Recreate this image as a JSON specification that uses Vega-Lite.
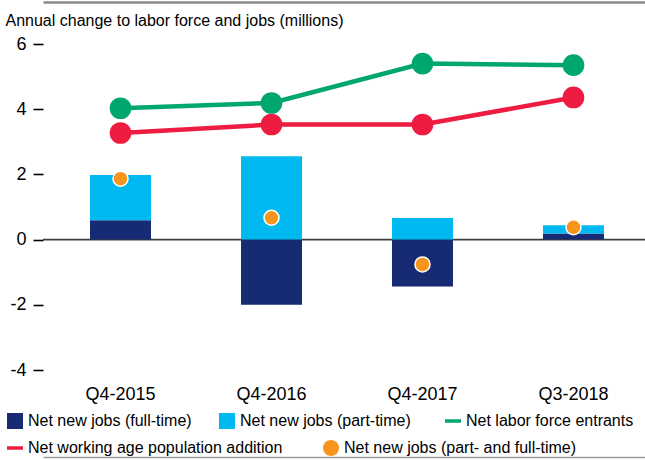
{
  "$schema": "https://vega.github.io/schema/vega-lite/v6.json",
  "width": 602,
  "height": 326,
  "autosize": {"type": "none"},
  "padding": {"left": 43, "top": 44, "right": 0, "bottom": 90},
  "background": "white",
  "config": {
    "font": "Liberation Sans, Arial, sans-serif",
    "view": {"stroke": null}
  },
  "datasets": {
    "bars": [
      {"quarter": "Q4-2015", "series": "Net new jobs (full-time)", "value": 0.59, "ord": 1},
      {"quarter": "Q4-2015", "series": "Net new jobs (part-time)", "value": 1.39, "ord": 2},
      {"quarter": "Q4-2016", "series": "Net new jobs (full-time)", "value": -2.0, "ord": 1},
      {"quarter": "Q4-2016", "series": "Net new jobs (part-time)", "value": 2.56, "ord": 2},
      {"quarter": "Q4-2017", "series": "Net new jobs (full-time)", "value": -1.44, "ord": 1},
      {"quarter": "Q4-2017", "series": "Net new jobs (part-time)", "value": 0.66, "ord": 2},
      {"quarter": "Q3-2018", "series": "Net new jobs (full-time)", "value": 0.19, "ord": 1},
      {"quarter": "Q3-2018", "series": "Net new jobs (part-time)", "value": 0.25, "ord": 2}
    ],
    "lines": [
      {"quarter": "Q4-2015", "series": "Net labor force entrants", "value": 4.03},
      {"quarter": "Q4-2016", "series": "Net labor force entrants", "value": 4.19},
      {"quarter": "Q4-2017", "series": "Net labor force entrants", "value": 5.40},
      {"quarter": "Q3-2018", "series": "Net labor force entrants", "value": 5.35},
      {"quarter": "Q4-2015", "series": "Net working age population addition", "value": 3.27},
      {"quarter": "Q4-2016", "series": "Net working age population addition", "value": 3.53},
      {"quarter": "Q4-2017", "series": "Net working age population addition", "value": 3.53},
      {"quarter": "Q3-2018", "series": "Net working age population addition", "value": 4.36}
    ],
    "dots": [
      {"quarter": "Q4-2015", "series": "Net new jobs (part- and full-time)", "value": 1.87},
      {"quarter": "Q4-2016", "series": "Net new jobs (part- and full-time)", "value": 0.67},
      {"quarter": "Q4-2017", "series": "Net new jobs (part- and full-time)", "value": -0.76},
      {"quarter": "Q3-2018", "series": "Net new jobs (part- and full-time)", "value": 0.38}
    ]
  },
  "resolve": {"axis": {"x": "independent"}},
  "encoding": {
    "y": {
      "field": "value", "type": "quantitative",
      "scale": {"domain": [-4, 6], "nice": false, "zero": false},
      "axis": {
        "orient": "left",
        "values": [-4, -2, 0, 2, 4, 6],
        "labelExpr": "datum.value < 0 ? '-' + abs(datum.value) : '' + datum.value",
        "grid": false, "domain": false, "ticks": true, "tickSize": 10, "tickWidth": 1.6, "tickColor": "#000000",
        "labelPadding": 7, "labelFontSize": 18, "labelColor": "#000000",
        "title": "Annual change to labor force and jobs (millions)",
        "titleAngle": 0, "titleAlign": "left", "titleBaseline": "alphabetic",
        "titleX": -38, "titleY": -19, "titleFontSize": 16, "titleFontWeight": "normal", "titleColor": "#000000"
      }
    }
  },
  "layer": [
    {
      "data": {"values": [{"value": 0}]},
      "mark": {"type": "rule", "color": "#3d3d3d", "strokeWidth": 1.6},
      "encoding": {}
    },
    {
      "data": {"name": "bars"},
      "mark": {"type": "bar"},
      "encoding": {
        "x": {
          "field": "quarter", "type": "nominal", "sort": ["Q4-2015", "Q4-2016", "Q4-2017", "Q3-2018"],
          "scale": {"paddingInner": 0.596, "paddingOuter": 0.2915, "align": 0.534},
          "axis": {"orient": "bottom", "title": null, "domain": false, "ticks": false, "labelAngle": 0, "labelFontSize": 18, "labelColor": "#000000", "labelPadding": 15}
        },
        "fill": {
          "field": "series", "type": "nominal",
          "scale": {
            "domain": ["Net new jobs (full-time)", "Net new jobs (part-time)", "Net labor force entrants"],
            "range": ["#162B74", "#00B9F1", "#00A76D"]
          },
          "legend": {
            "orient": "none", "legendX": -36, "legendY": 369, "direction": "horizontal",
            "title": null, "columnPadding": 27,
            "labelFontSize": 16, "labelLimit": 500, "labelColor": "#000000", "labelOffset": 5, "symbolSize": 256, "padding": 0,
            "encode": {
              "symbols": {
                "update": {
                  "shape": {"signal": "datum.value === 'Net labor force entrants' ? 'stroke' : 'square'"},
                  "fill": {"scale": "fill", "field": "value"},
                  "stroke": {"scale": "fill", "field": "value"},
                  "strokeWidth": {"signal": "datum.value === 'Net labor force entrants' ? 3.5 : 0"},
                  "size": {"value": 256},
                  "opacity": {"value": 1},
                  "fillOpacity": {"value": 1}
                }
              }
            }
          }
        },
        "order": {"field": "ord", "type": "quantitative"}
      }
    },
    {
      "data": {"name": "lines"},
      "transform": [{"filter": "datum.series === 'Net labor force entrants'"}],
      "mark": {"type": "line", "strokeWidth": 4.5, "color": "#00A76D"},
      "encoding": {
        "x": {
          "field": "quarter", "type": "nominal", "sort": ["Q4-2015", "Q4-2016", "Q4-2017", "Q3-2018"],
          "axis": {"orient": "top", "offset": 42, "labels": false, "ticks": false, "domain": true, "domainColor": "#8a8a8a", "domainWidth": 2.5, "title": null, "grid": false}
        }
      }
    },
    {
      "data": {"name": "lines"},
      "transform": [{"filter": "datum.series === 'Net working age population addition'"}],
      "mark": {"type": "line", "strokeWidth": 4.5},
      "encoding": {
        "x": {"field": "quarter", "type": "nominal", "sort": ["Q4-2015", "Q4-2016", "Q4-2017", "Q3-2018"], "axis": null},
        "stroke": {
          "field": "series", "type": "nominal",
          "scale": {
            "domain": ["Net working age population addition", "Net new jobs (part- and full-time)"],
            "range": ["#EE1C41", "#F7941D"]
          },
          "legend": {
            "orient": "none", "legendX": -36, "legendY": 396, "direction": "horizontal",
            "title": null, "columnPadding": 40,
            "labelFontSize": 16, "labelLimit": 500, "labelColor": "#000000", "labelOffset": 5, "symbolSize": 256, "padding": 0,
            "encode": {
              "symbols": {
                "update": {
                  "shape": {"signal": "datum.value === 'Net working age population addition' ? 'stroke' : 'circle'"},
                  "fill": {"scale": "stroke", "field": "value"},
                  "stroke": {"scale": "stroke", "field": "value"},
                  "strokeWidth": {"signal": "datum.value === 'Net working age population addition' ? 3.5 : 0"},
                  "size": {"value": 256},
                  "opacity": {"value": 1},
                  "fillOpacity": {"value": 1}
                }
              }
            }
          }
        }
      }
    },
    {
      "data": {"name": "lines"},
      "transform": [{"filter": "datum.series === 'Net labor force entrants'"}],
      "mark": {"type": "point", "filled": true, "opacity": 1, "size": 470},
      "encoding": {
        "x": {"field": "quarter", "type": "nominal", "sort": ["Q4-2015", "Q4-2016", "Q4-2017", "Q3-2018"], "axis": null},
        "fill": {"field": "series", "type": "nominal"}
      }
    },
    {
      "data": {"name": "lines"},
      "transform": [{"filter": "datum.series === 'Net working age population addition'"}],
      "mark": {"type": "point", "filled": true, "opacity": 1, "size": 470, "color": "#EE1C41"},
      "encoding": {
        "x": {"field": "quarter", "type": "nominal", "sort": ["Q4-2015", "Q4-2016", "Q4-2017", "Q3-2018"], "axis": null}
      }
    },
    {
      "data": {"name": "dots"},
      "mark": {"type": "point", "filled": true, "opacity": 1, "size": 225, "fill": "#F7941D", "stroke": "#ffffff", "strokeWidth": 1.5},
      "encoding": {
        "x": {
          "field": "quarter", "type": "nominal", "sort": ["Q4-2015", "Q4-2016", "Q4-2017", "Q3-2018"],
          "axis": {"orient": "bottom", "offset": 87, "labels": false, "ticks": false, "domain": true, "domainColor": "#9a9a9a", "domainWidth": 1.5, "title": null, "grid": false}
        }
      }
    }
  ]
}
